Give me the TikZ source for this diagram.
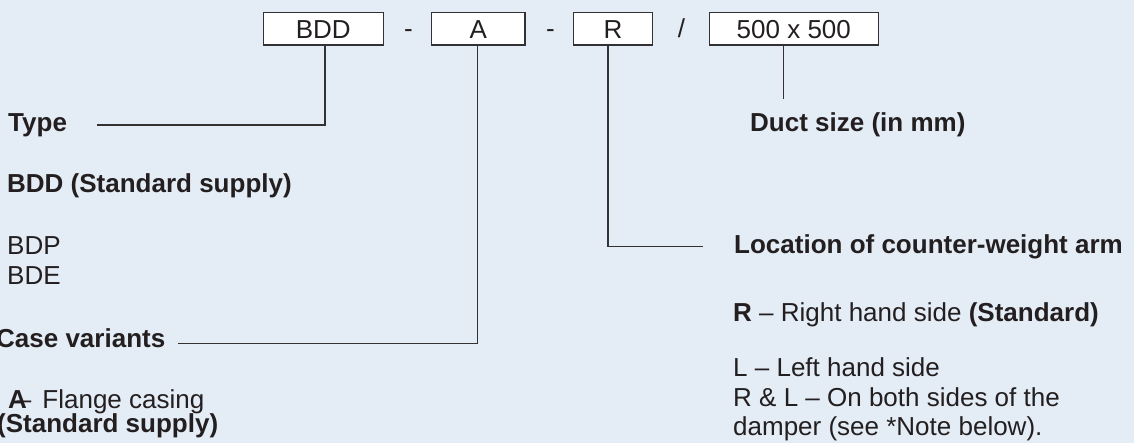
\documentclass[tikz,border=0pt]{standalone}
\usepackage{fontspec}
\setmainfont{Liberation Sans}
\definecolor{bgcol}{RGB}{228,236,245}
\definecolor{ink}{RGB}{35,31,32}
\definecolor{wire}{RGB}{50,50,52}
\begin{document}
\begin{tikzpicture}[x=1pt,y=-1pt,
  every node/.style={text=ink,font=\fontsize{26}{30}\selectfont},
  codebox/.style={draw=wire,line width=1.2pt,fill=white,minimum height=32.3pt,
    inner sep=0pt,text height=18.6pt,text depth=0pt,anchor=center},
  sep/.style={inner sep=0pt,anchor=base},
  txt/.style={inner sep=0pt,anchor=base west},
  lead/.style={draw=wire,line width=1.2pt}]
\fill[bgcol] (0,0) rectangle (1134,443);
\useasboundingbox (0,0) rectangle (1134,443);

% code boxes along the top
\node[codebox,minimum width=120pt] (bdd) at (323.3,28.85) {BDD};
\node[codebox,minimum width=93.3pt] (cas) at (478.4,28.85) {A};
\node[codebox,minimum width=79.4pt] (arm) at (613,28.85) {R};
\node[codebox,minimum width=169pt] (size) at (793.8,28.85) {500 x 500};
\node[sep] (s1) at (408.5,37.8) {-};
\node[sep] (s2) at (550.5,37.8) {-};
\node[sep] (s3) at (681.5,37.8) {/};

% left column
\node[txt] (type) at (8,131.7) {\textbf{Type}};
\node[txt] (bddstd) at (7,193) {\textbf{BDD (Standard supply)}};
\node[txt] (bdp) at (7,254.5) {BDP};
\node[txt] (bde) at (7,285) {BDE};
\node[txt] (case) at (-4,347) {\textbf{Case variants}};
\node[txt] (flange) at (8,408.5) {\textbf{A}\kern-10pt–\kern11pt Flange casing};
\node[txt] (casestd) at (-3,432.5) {\textbf{(Standard supply)}};

% right column
\node[txt] (duct) at (750,131.7) {\textbf{Duct size (in mm)}};
\node[txt] (loc) at (734,253.5) {\textbf{Location of counter-weight arm}};
\node[txt] (rhs) at (733,321.7) {\textbf{R} – Right hand side \textbf{(Standard)}};
\node[txt] (lhs) at (733,376.7) {L – Left hand side};
\node[txt] (both) at (733,406.5) {R \& L – On both sides of the};
\node[txt] (damp) at (733,435) {damper (see *Note below).};

% leader lines
\coordinate (typeBend) at (325,125);
\coordinate (typeEnd) at (97,125);
\coordinate (caseBend) at (477.3,343.3);
\coordinate (caseEnd) at (178,343.3);
\coordinate (armBend) at (608,246.7);
\coordinate (armEnd) at (702.7,246.7);
\coordinate (sizeEnd) at (783.3,99.3);

\draw[lead] (bdd.south -| typeBend) -- (typeBend) -- (typeEnd);
\draw[lead] (cas.south -| caseBend) -- (caseBend) -- (caseEnd);
\draw[lead] (arm.south -| armBend) -- (armBend) -- (armEnd);
\draw[lead] (size.south -| sizeEnd) -- (sizeEnd);
\end{tikzpicture}
\end{document}
